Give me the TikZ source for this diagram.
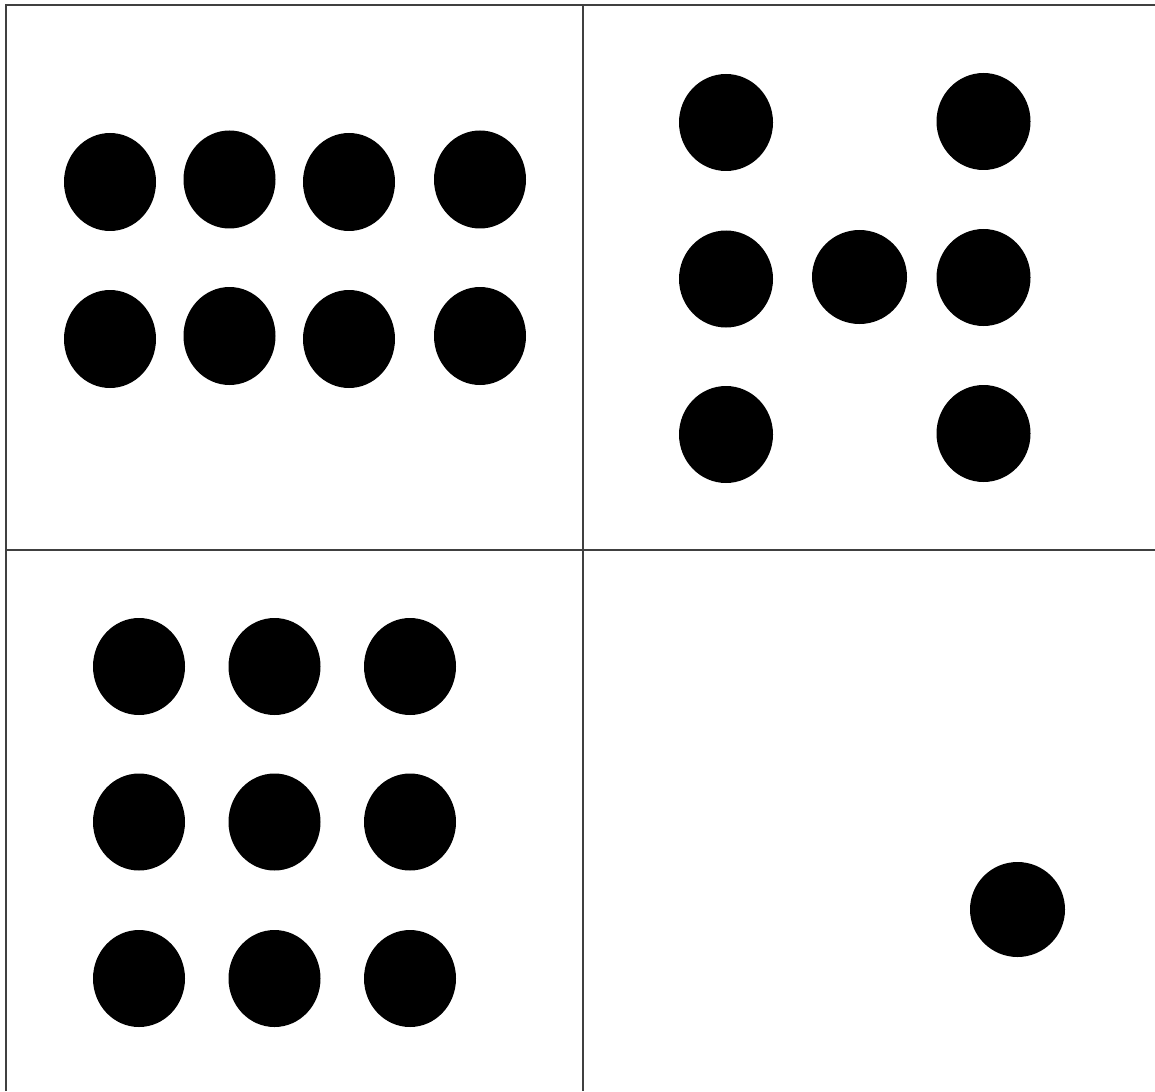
\documentclass[tikz,border=0pt]{standalone}
\begin{document}
\begin{tikzpicture}[x=1pt,y=-1pt,
  gridline/.style={draw=black!75,line width=2pt},
  dotA/.style={fill=black}]
\useasboundingbox (0,0) rectangle (1155,1091);
\fill[white] (0,0) rectangle (1155,1091);
% grid
\draw[gridline] (6,1091) -- (6,5) -- (1155,5);
\draw[gridline] (582.5,5) -- (582.5,1091);
\draw[gridline] (6,550) -- (1155,550);
% top-left: 2 x 4
\foreach \x/\y in {110/182, 229.5/179.5, 349/182, 480/179.5,
                   110/339, 229.5/336, 349/339, 480/336}
  \fill[dotA] (\x,\y) ellipse [x radius=46, y radius=49];
% top-right: 7 dots
\foreach \x/\y in {726/122.5, 983.5/121.5,
                   726/279, 983.5/277.5,
                   726/434.5, 983.5/433.5}
  \fill[dotA] (\x,\y) ellipse [x radius=47, y radius=48.5];
\fill[dotA] (859.5,277) ellipse [x radius=47.5, y radius=47];
% bottom-left: 3 x 3
\foreach \y in {666.5, 822, 978.5}
  \foreach \x in {139, 274.5, 410}
    \fill[dotA] (\x,\y) ellipse [x radius=46, y radius=48.5];
% bottom-right: single dot
\fill[dotA] (1017.5,909.5) ellipse [x radius=47.5, y radius=47.5];
\end{tikzpicture}
\end{document}
